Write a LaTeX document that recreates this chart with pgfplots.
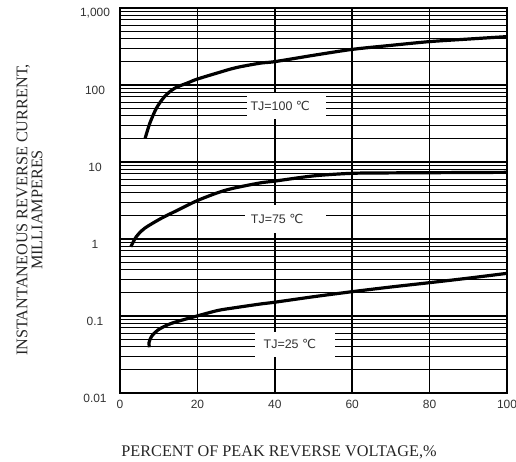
\documentclass[border=0pt]{standalone}
\usepackage{pgfplots}
\pgfplotsset{compat=1.18}
\usepackage{fontspec}
\setmainfont{Liberation Serif}
\newfontfamily\arialf{Liberation Sans}
\newfontfamily\dejavu{DejaVu Sans}

\begin{document}
\begin{tikzpicture}[x=1bp,y=1bp]
\path[use as bounding box] (0,0) rectangle (516,462);
\begin{axis}[
  at={(120bp,69bp)}, anchor=south west,
  scale only axis, width=387bp, height=385bp,
  xmin=0, xmax=100, ymin=0.01, ymax=1000, ymode=log,
  xtick={0,20,40,60,80,100}, xticklabels={0,20,40,60,80,100},
  ytick={0.01,0.1,1,10,100,1000}, yticklabels={0.01,0.1,1,10,100,{1,000}},
  xmajorgrids, ymajorgrids, yminorgrids,
  major tick length=0, minor tick length=0,
  grid style={line width=1.1bp, draw=black},
  x grid style={line width=1.6bp, draw=black},
  axis line style={line width=2bp, black},
  tick label style={font=\arialf\fontsize{12}{13}\selectfont, text=black!80},
  /pgf/number format/assume math mode=true,
  yticklabel style={anchor=center, xshift=-25bp, yshift=-5bp},
  xticklabel style={yshift=-4bp},
]
% TJ = 100 C
\addplot[line width=3.2bp, black, smooth, tension=0.5] coordinates {
  (6.5,20.3) (7.7,31.8) (9.4,49.8) (11.5,70.5) (14.1,90.6) (17.6,107)
  (19.9,119) (25.3,144) (30,168) (36.2,192) (40,201) (50,243) (60,290)
  (70,327) (80,366) (90,395) (100,425)};
% TJ = 75 C
\addplot[line width=3.2bp, black, smooth, tension=0.5] coordinates {
  (2.8,0.794) (4.2,1.07) (6.4,1.38) (10.7,1.86) (15.0,2.38) (19.9,3.14)
  (25.3,4.0) (29.2,4.55) (36.2,5.35) (40,5.65) (50,6.6) (60,7.13)
  (70,7.22) (80,7.26) (90,7.3) (100,7.34)};
% TJ = 25 C
\addplot[line width=3.2bp, black, smooth, tension=0.5] coordinates {
  (7.6,0.0393) (7.5,0.045) (8.1,0.0538) (9.8,0.0658) (13.3,0.0803)
  (19.9,0.1) (25.3,0.118) (29.2,0.127) (36.2,0.143) (40,0.151) (50,0.178)
  (60,0.207) (70,0.238) (80,0.271) (90,0.31) (100,0.358)};

\node[fill=white, minimum width=79bp, minimum height=26bp, inner sep=0pt] at (axis cs:43.0,53.3) {};
\node[font=\arialf\fontsize{12.5}{13}\selectfont, text=black!80] at (axis cs:41.4,53.3) {TJ=100 {\dejavu ℃}};
\node[fill=white, minimum width=81bp, minimum height=28bp, inner sep=0pt] at (axis cs:42.8,1.82) {};
\node[font=\arialf\fontsize{12.5}{13}\selectfont, text=black!80] at (axis cs:40.6,1.82) {TJ=75 {\dejavu ℃}};
\node[fill=white, minimum width=80bp, minimum height=25bp, inner sep=0pt] at (axis cs:45.2,0.0427) {};
\node[font=\arialf\fontsize{12.5}{13}\selectfont, text=black!80] at (axis cs:43.9,0.0427) {TJ=25 {\dejavu ℃}};
\end{axis}
\node[font=\fontsize{16.3}{18}\selectfont, text=black!85] at (279,10) {PERCENT OF PEAK REVERSE VOLTAGE,\%};
\node[rotate=90, align=center, font=\fontsize{16.3}{15}\selectfont, text=black!85] at (29.5,252)
  {INSTANTANEOUS REVERSE CURRENT,\\MILLIAMPERES};
\end{tikzpicture}
\end{document}
